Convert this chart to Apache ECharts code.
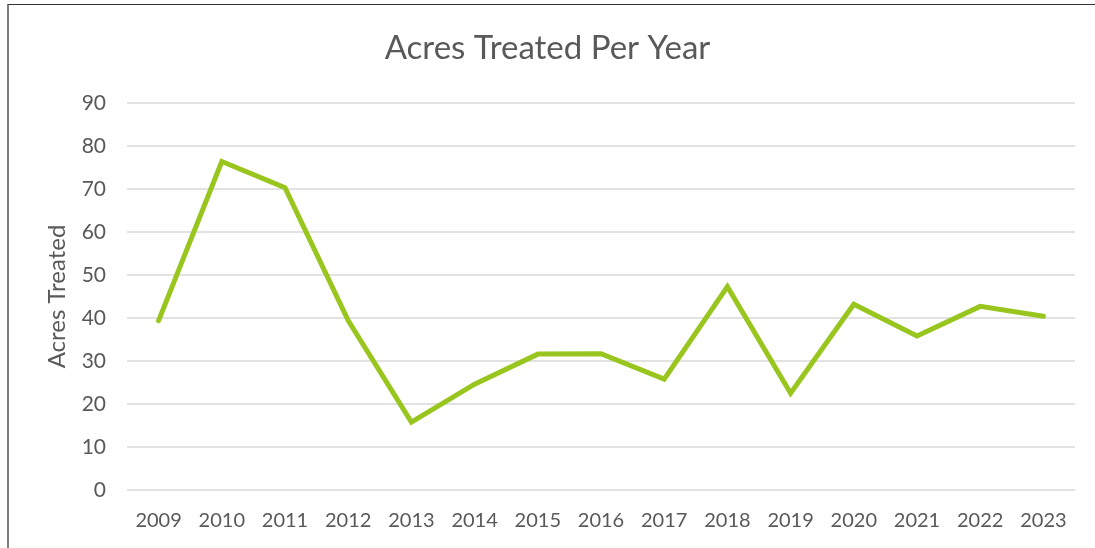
<!DOCTYPE html>
<html>
<head>
<meta charset="utf-8">
<script src="https://cdn.jsdelivr.net/npm/echarts@6/dist/echarts.min.js"></script>
<style>
  html, body { margin: 0; padding: 0; background: #fff; }
  #frame {
    position: absolute; left: 7px; top: 4px; width: 1088px; height: 544px;
    border-left: 2px solid #7f7f7f; border-top: 1px solid #333;
    box-sizing: border-box;
  }
  #chart { position: absolute; left: 0; top: 0; width: 1095px; height: 548px; }
</style>
</head>
<body>
<div id="frame"></div>
<div id="chart"></div>
<script>
  // 年份
  const years = ["2009", "2010", "2011", "2012", "2013", "2014", "2015", "2016",
    "2017", "2018", "2019", "2020", "2021", "2022", "2023"];
  // 每年处理面积
  const acres = [39.4, 76.4, 70.3, 39.4, 15.8, 24.6, 31.6, 31.7,
    25.8, 47.3, 22.5, 43.2, 35.8, 42.7, 40.4];

  const textColor = "#595959";
  const font = "Lato, 'Open Sans', sans-serif";

  const myChart = echarts.init(document.getElementById("chart"));
  myChart.setOption({
    animation: false,
    title: {
      text: "Acres Treated Per Year",
      left: "center",
      top: 27,
      textStyle: { color: textColor, fontSize: 33, fontWeight: "normal", fontFamily: font },
    },
    grid: { left: 127, right: 20, top: 103, bottom: 58 },
    xAxis: {
      type: "category",
      data: years,
      boundaryGap: true,
      axisLine: { show: false },
      axisTick: { show: false },
      axisLabel: { color: textColor, fontSize: 20, fontFamily: font, margin: 21, interval: 0 },
    },
    yAxis: {
      type: "value",
      min: 0,
      max: 90,
      interval: 10,
      name: "Acres Treated",
      nameLocation: "middle",
      nameGap: 58,
      nameTextStyle: { color: textColor, fontSize: 24, fontFamily: font },
      axisLine: { show: false },
      axisTick: { show: false },
      axisLabel: { color: textColor, fontSize: 21, fontFamily: font, margin: 21 },
      splitLine: { lineStyle: { color: "#d9d9d9", width: 1.5 } },
    },
    series: [
      {
        type: "line",
        data: acres,
        symbol: "none",
        // 线条颜色
        lineStyle: { color: "#99c61e", width: 5, cap: "round", join: "miter" },
      },
    ],
  });
</script>
</body>
</html>
